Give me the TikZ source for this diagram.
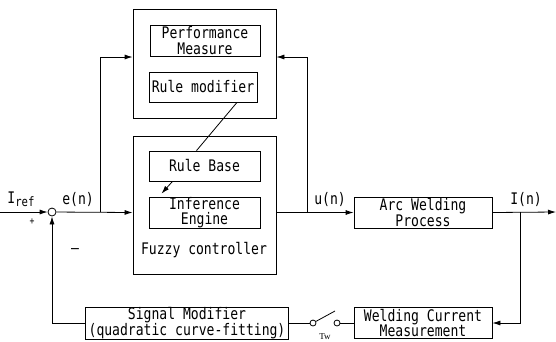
\documentclass[tikz,border=0pt]{standalone}
\usepackage{fontspec}
\setmainfont{DejaVu Sans Mono}[FakeStretch=0.82]
\newfontfamily\smallserif{Liberation Serif}
\usetikzlibrary{calc,arrows.meta}

\begin{document}
\begin{tikzpicture}[x=1bp,y=-1bp,>={Latex[length=8bp,width=5bp]},line width=0.8bp,
    every node/.style={font=\fontsize{16}{15.5}\selectfont},
    blk/.style 2 args={draw,align=center,inner sep=0pt,minimum width=#1,minimum height=#2},
    junc/.style={draw,circle,inner sep=0pt,minimum size=#1}]
    \useasboundingbox (0,0) rectangle (556,341);

    % adaptation part on top
    \node[blk={143bp}{109bp}] (adapt) at (204.5,63.5) {};
    \node[blk={110bp}{31bp}] (perf) at (205,40.5) {Performance\\Measure};
    \node[blk={108bp}{30bp}] (rulemod) at (203,87) {Rule modifier};

    % fuzzy controller
    \node[blk={143bp}{138bp}] (fuzzy) at (204.5,205) {};
    \node[blk={111bp}{30bp}] (rulebase) at (204.5,166) {Rule Base};
    \node[blk={111bp}{31bp}] (infer) at (204.5,212.5) {Inference\\Engine};
    \node (fuzzytxt) at (204,250) {Fuzzy controller};

    % plant and feedback path
    \node[blk={138bp}{31bp}] (arc) at (423,212.5) {Arc Welding\\Process};
    \node[blk={138bp}{31bp}] (meas) at (423,323) {Welding Current\\Measurement};
    \node[blk={203bp}{30bp}] (sigmod) at (187,323) {Signal Modifier\\(quadratic curve-fitting)};
    \node[junc=8bp] (sum) at (52,212) {};
    \node[junc=6bp] (swl) at (313,323) {};
    \node[junc=6bp] (swr) at (337,323) {};

    \coordinate (in) at (0,212);
    \coordinate (out) at (556,212);
    \coordinate (brl) at (100,212);
    \coordinate (brr) at (307,212);
    \coordinate (bri) at (520,212);
    \coordinate (lever) at (335,311);

    % forward path
    \draw[->] (in) -- (sum);
    \draw[->] (sum) -- (infer -| fuzzy.west);
    \draw[->] (infer -| fuzzy.east) -- (arc.west);
    \draw[->] (arc.east) -- (out);

    % signals to the adaptation part
    \draw[->] (brl) -- (100,57) -- (100,57 -| adapt.west);
    \draw[->] (brr) -- (307,57) -- (307,57 -| adapt.east);
    \draw ($(rulemod.south)+(34,0)$) -- ($(rulebase.north)+(-8,0)$);
    \draw[->] ($(rulebase.south)+(-32,0)$) -- ($(infer.north)+(-43,-3)$);

    % feedback loop
    \draw[->] (bri) |- (meas.east);
    \draw (meas.west) -- (swr);
    \draw (swl) -- (lever);
    \draw (swl) -- (sigmod.east);
    \draw[->] (sigmod.west) -| (sum.south);

    % labels
    \node (iref) at (21,199) {I{\fontsize{13}{13}\selectfont\raisebox{-3bp}{ref}}};
    \node[font=\fontsize{10}{10}\selectfont] (plus) at (32,222) {+};
    \node (en) at (78,199) {e(n)};
    \node (minus) at (75,251) {–};
    \node (un) at (330,199) {u(n)};
    \node (iout) at (526,199) {I(n)};
    \node[font=\smallserif\fontsize{9}{9}\selectfont] (tw) at (325,337) {Tw};
\end{tikzpicture}
\end{document}
